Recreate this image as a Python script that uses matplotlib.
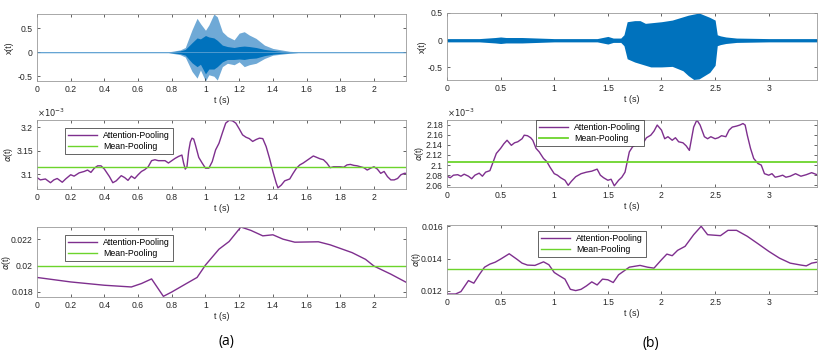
import numpy as np
import matplotlib.pyplot as plt

plt.rcParams['font.family'] = ['Liberation Sans', 'DejaVu Sans']
plt.rcParams['font.size'] = 6.2
plt.rcParams['mathtext.fontset'] = 'dejavusans'

PURPLE = '#7E2F8E'
GREEN = '#6CD42C'
BLUE = '#0072BD'
LIGHT = '#6FA9D6'

# ---- (a) waveform envelope ----
wa_t = [0, 0.78, 0.8, 0.85, 0.88, 0.92, 0.95, 0.97, 1.0, 1.02, 1.05, 1.07, 1.1, 1.13,
        1.17, 1.2, 1.23, 1.26, 1.3, 1.35, 1.4, 1.45, 1.5, 1.55, 2.19]
wa_hi = [0.01, 0.01, 0.02, 0.05, 0.1, 0.47, 0.71, 0.6, 0.46, 0.57, 0.8, 0.74, 0.43, 0.33,
         0.26, 0.4, 0.43, 0.36, 0.29, 0.15, 0.08, 0.05, 0.02, 0.01, 0.01]
wa_lo = [-0.01, -0.01, -0.02, -0.05, -0.1, -0.4, -0.54, -0.37, -0.6, -0.47, -0.5, -0.58, -0.3, -0.23,
         -0.26, -0.2, -0.3, -0.26, -0.23, -0.13, -0.06, -0.04, -0.02, -0.01, -0.01]
wa_core_hi = [0.005, 0.005, 0.01, 0.03, 0.06, 0.2, 0.3, 0.28, 0.35, 0.32, 0.3, 0.25, 0.15, 0.12,
              0.1, 0.12, 0.13, 0.12, 0.1, 0.06, 0.04, 0.02, 0.01, 0.005, 0.005]
wa_core_lo = [-0.005, -0.005, -0.01, -0.03, -0.06, -0.22, -0.3, -0.25, -0.45, -0.35, -0.35, -0.3, -0.2, -0.15,
              -0.15, -0.14, -0.15, -0.13, -0.12, -0.07, -0.04, -0.02, -0.01, -0.005, -0.005]

# ---- (b) waveform envelope ----
wb_t = [0, 0.3, 0.45, 0.5, 0.55, 0.7, 1.0, 1.4, 1.5, 1.55, 1.62, 1.65, 1.68, 1.75, 1.8, 1.85,
        1.9, 2.0, 2.1, 2.2, 2.25, 2.3, 2.35, 2.4, 2.45, 2.5, 2.52, 2.55, 2.6, 2.7, 3.0, 3.45]
wb_hi = [0.03, 0.03, 0.05, 0.06, 0.05, 0.05, 0.03, 0.03, 0.07, 0.04, 0.04, 0.1, 0.34, 0.36, 0.36, 0.31,
         0.32, 0.34, 0.37, 0.43, 0.46, 0.48, 0.5, 0.46, 0.42, 0.37, 0.1, 0.08, 0.06, 0.04, 0.03, 0.03]
wb_lo = [-0.03, -0.03, -0.05, -0.06, -0.05, -0.05, -0.03, -0.03, -0.07, -0.04, -0.04, -0.1, -0.34, -0.4, -0.43, -0.46,
         -0.49, -0.49, -0.48, -0.56, -0.65, -0.72, -0.71, -0.65, -0.59, -0.46, -0.1, -0.08, -0.06, -0.04, -0.03, -0.03]

# ---- (a) attention weights, frame level (x1e-3) ----
ma_t = [0, 0.02, 0.05, 0.08, 0.1, 0.12, 0.15, 0.17, 0.2, 0.22, 0.25, 0.28, 0.3, 0.32, 0.34, 0.36,
        0.38, 0.4, 0.43, 0.45, 0.47, 0.5, 0.52, 0.54, 0.56, 0.58, 0.6, 0.62, 0.64, 0.66, 0.68, 0.7,
        0.72, 0.74, 0.76, 0.78, 0.8, 0.82, 0.84, 0.86, 0.87, 0.88, 0.89, 0.9, 0.91, 0.92, 0.93, 0.94,
        0.96, 0.98, 1.0, 1.02, 1.04, 1.06, 1.08, 1.1, 1.12, 1.14, 1.16, 1.18, 1.2, 1.22, 1.24, 1.26,
        1.28, 1.3, 1.32, 1.34, 1.36, 1.38, 1.4, 1.42, 1.43, 1.45, 1.47, 1.5, 1.52, 1.54, 1.56, 1.58,
        1.6, 1.62, 1.64, 1.66, 1.68, 1.7, 1.72, 1.74, 1.76, 1.8, 1.82, 1.84, 1.86, 1.88, 1.9, 1.92,
        1.94, 1.96, 1.98, 2.0, 2.02, 2.04, 2.06, 2.08, 2.1, 2.12, 2.14, 2.16, 2.18, 2.19]
ma_att = [3.093, 3.088, 3.090, 3.082, 3.088, 3.091, 3.083, 3.090, 3.099, 3.096, 3.103, 3.106, 3.109, 3.104, 3.113, 3.118,
          3.118, 3.111, 3.095, 3.082, 3.086, 3.097, 3.093, 3.087, 3.096, 3.091, 3.099, 3.106, 3.110, 3.116, 3.129, 3.131,
          3.129, 3.129, 3.129, 3.124, 3.129, 3.134, 3.138, 3.141, 3.124, 3.111, 3.116, 3.149, 3.169, 3.177, 3.175, 3.163,
          3.136, 3.124, 3.113, 3.113, 3.127, 3.152, 3.166, 3.188, 3.209, 3.215, 3.214, 3.209, 3.197, 3.184, 3.179, 3.176,
          3.170, 3.174, 3.177, 3.176, 3.159, 3.134, 3.106, 3.081, 3.071, 3.077, 3.086, 3.090, 3.102, 3.113, 3.120, 3.124,
          3.129, 3.134, 3.139, 3.136, 3.133, 3.131, 3.124, 3.114, 3.116, 3.116, 3.115, 3.120, 3.121, 3.119, 3.118, 3.116,
          3.114, 3.109, 3.113, 3.116, 3.111, 3.102, 3.106, 3.095, 3.088, 3.088, 3.091, 3.099, 3.102, 3.102]
ma_mean = 3.115

# ---- (b) attention weights, frame level (x1e-3) ----
mb_t = [0, 0.03, 0.06, 0.1, 0.13, 0.16, 0.2, 0.23, 0.26, 0.3, 0.33, 0.36, 0.4, 0.43, 0.46, 0.5,
        0.53, 0.56, 0.6, 0.63, 0.66, 0.7, 0.72, 0.75, 0.78, 0.8, 0.83, 0.86, 0.9, 0.93, 0.96, 1.0,
        1.03, 1.06, 1.1, 1.13, 1.16, 1.2, 1.25, 1.3, 1.35, 1.4, 1.43, 1.46, 1.5, 1.53, 1.56, 1.6,
        1.63, 1.66, 1.68, 1.7, 1.73, 1.76, 1.8, 1.83, 1.86, 1.9, 1.93, 1.96, 2.0, 2.03, 2.06, 2.1,
        2.13, 2.16, 2.2, 2.23, 2.26, 2.28, 2.3, 2.33, 2.36, 2.4, 2.43, 2.46, 2.5, 2.53, 2.56, 2.6,
        2.63, 2.66, 2.7, 2.73, 2.76, 2.78, 2.8, 2.83, 2.86, 2.9, 2.93, 2.96, 3.0, 3.03, 3.06, 3.1,
        3.13, 3.16, 3.2, 3.25, 3.3, 3.35, 3.4, 3.45]
mb_att = [2.078, 2.075, 2.080, 2.081, 2.078, 2.082, 2.078, 2.073, 2.080, 2.084, 2.078, 2.086, 2.089, 2.106, 2.123, 2.133,
          2.142, 2.149, 2.139, 2.144, 2.146, 2.152, 2.159, 2.158, 2.154, 2.149, 2.133, 2.126, 2.113, 2.107, 2.096, 2.083,
          2.080, 2.075, 2.070, 2.060, 2.068, 2.077, 2.083, 2.086, 2.088, 2.092, 2.080, 2.075, 2.070, 2.072, 2.059, 2.070,
          2.076, 2.086, 2.106, 2.126, 2.136, 2.140, 2.146, 2.144, 2.154, 2.159, 2.167, 2.179, 2.169, 2.152, 2.156, 2.149,
          2.154, 2.146, 2.144, 2.138, 2.129, 2.152, 2.175, 2.189, 2.179, 2.156, 2.152, 2.156, 2.152, 2.154, 2.158, 2.156,
          2.169, 2.175, 2.177, 2.179, 2.182, 2.179, 2.159, 2.133, 2.113, 2.103, 2.100, 2.083, 2.080, 2.083, 2.076, 2.078,
          2.080, 2.076, 2.078, 2.083, 2.078, 2.081, 2.085, 2.081]
mb_mean = 2.106

# ---- (a) attention weights, segment level ----
ba_t = [0, 0.2, 0.4, 0.56, 0.62, 0.68, 0.75, 0.8, 0.88, 0.95, 1.0, 1.08, 1.14, 1.21, 1.27, 1.34,
        1.4, 1.46, 1.53, 1.67, 1.74, 1.87, 1.95, 2.0, 2.1, 2.19]
ba_att = [0.01910, 0.01876, 0.01851, 0.01838, 0.01864, 0.01899, 0.01767, 0.01800, 0.01859, 0.01910,
          0.02004, 0.02124, 0.02182, 0.02292, 0.02266, 0.02225, 0.02233, 0.02200, 0.02177, 0.02180,
          0.02157, 0.02098, 0.02047, 0.01996, 0.01935, 0.01874]
ba_mean = 0.0200

# ---- (b) attention weights, segment level ----
bb_t = [0, 0.08, 0.13, 0.2, 0.25, 0.3, 0.35, 0.4, 0.45, 0.5, 0.58, 0.65, 0.7, 0.75, 0.82, 0.9,
        0.95, 1.0, 1.05, 1.1, 1.15, 1.2, 1.25, 1.3, 1.35, 1.4, 1.45, 1.5, 1.55, 1.6, 1.7, 1.8,
        1.87, 1.93, 2.0, 2.05, 2.1, 2.15, 2.22, 2.3, 2.37, 2.43, 2.55, 2.62, 2.7, 2.8, 2.9, 3.0,
        3.1, 3.2, 3.3, 3.35, 3.4, 3.45]
bb_att = [0.01181, 0.01181, 0.01196, 0.01264, 0.01248, 0.01300, 0.01347, 0.01366, 0.01378, 0.01397,
          0.01430, 0.01397, 0.01372, 0.01360, 0.01358, 0.01380, 0.01362, 0.01314, 0.01293, 0.01273,
          0.01210, 0.01202, 0.01210, 0.01231, 0.01256, 0.01237, 0.01273, 0.01269, 0.01252, 0.01300,
          0.01347, 0.01358, 0.01347, 0.01341, 0.01393, 0.01428, 0.01418, 0.01451, 0.01476, 0.01548,
          0.01600, 0.01548, 0.01542, 0.01575, 0.01575, 0.01538, 0.01492, 0.01445, 0.01403, 0.01372,
          0.01360, 0.01355, 0.01372, 0.01378]
bb_mean = 0.01335

fig = plt.figure(figsize=(8.3, 3.62), dpi=100)


def add_ax(px_l, px_t, px_r, px_b):
    ax = fig.add_axes([px_l / 830, 1 - px_b / 362, (px_r - px_l) / 830, (px_b - px_t) / 362])
    ax.tick_params(direction='in', top=True, right=True, length=2.5, width=0.5,
                   colors='#262626', labelsize=6.2, pad=3)
    for s in ax.spines.values():
        s.set_linewidth(0.6)
        s.set_color('#9a9a9a')
    ax._px = (px_l, px_r)
    return ax


def set_ylab(ax, text, px_right):
    # px_right: right edge of the rotated label, in figure pixels
    ax.set_ylabel(text, fontsize=6.2, color='#262626')
    l, r = ax._px
    ax.yaxis.set_label_coords((px_right - l) / (r - l), 0.5)


def style_x(ax, xmax, ticks, labels):
    ax.set_xlim(0, xmax)
    ax.set_xticks(ticks)
    ax.set_xticklabels(labels)
    ax.set_xlabel('t (s)', fontsize=6.5, labelpad=1, color='#262626')


xa_ticks = [0, 0.2, 0.4, 0.6, 0.8, 1, 1.2, 1.4, 1.6, 1.8, 2]
xa_labels = ['0', '0.2', '0.4', '0.6', '0.8', '1', '1.2', '1.4', '1.6', '1.8', '2']
xb_ticks = [0, 0.5, 1, 1.5, 2, 2.5, 3]
xb_labels = ['0', '0.5', '1', '1.5', '2', '2.5', '3']


def add_legend(ax, x, y):
    leg = ax.legend(loc='upper left', bbox_to_anchor=(x / 830, 1 - y / 362), bbox_transform=fig.transFigure,
                    borderaxespad=0, fancybox=False, framealpha=1, edgecolor='#262626', fontsize=6.3,
                    handlelength=3.3, labelspacing=0.25, borderpad=0.35, handletextpad=0.7)
    leg.get_frame().set_linewidth(0.5)


# top-left waveform
ax = add_ax(37, 14, 406, 81)
ax.fill_between(wa_t, wa_lo, wa_hi, color=LIGHT, lw=0)
ax.fill_between(wa_t, wa_core_lo, wa_core_hi, color=BLUE, lw=0)
ax.plot([0, 2.19], [0, 0], color=LIGHT, lw=0.5)
ax.set_ylim(-0.6, 0.8)
ax.set_yticks([-0.5, 0, 0.5])
ax.set_yticklabels(['-0.5', '0', '0.5'])
set_ylab(ax, 'x(t)', 14)
style_x(ax, 2.19, xa_ticks, xa_labels)

# top-right waveform
ax = add_ax(447, 13, 817, 80)
ax.fill_between(wb_t, wb_lo, wb_hi, color=BLUE, lw=0)
ax.plot([0, 3.45], [0, 0], color=BLUE, lw=0.6)
ax.set_ylim(-0.73, 0.5)
ax.set_yticks([-0.5, 0, 0.5])
ax.set_yticklabels(['-0.5', '0', '0.5'])
set_ylab(ax, 'x(t)', 427)
style_x(ax, 3.45, xb_ticks, xb_labels)

# middle-left
ax = add_ax(37, 120, 406, 189)
ax.plot(ma_t, ma_att, color=PURPLE, lw=1.0, label='Attention-Pooling')
ax.axhline(ma_mean, color=GREEN, lw=1.0, label='Mean-Pooling')
ax.set_ylim(3.0686, 3.2157)
ax.set_yticks([3.1, 3.15, 3.2])
ax.set_yticklabels(['3.1', '3.15', '3.2'])
set_ylab(ax, r'$\alpha$(t)', 15)
ax.text(0, 1.01, r'$\times10^{-3}$', transform=ax.transAxes, fontsize=6, color='#262626', va='bottom')
style_x(ax, 2.19, xa_ticks, xa_labels)
add_legend(ax, 65, 128)

# middle-right
ax = add_ax(447, 120, 817, 187)
ax.plot(mb_t, mb_att, color=PURPLE, lw=1.0, label='Attention-Pooling')
ax.axhline(mb_mean, color=GREEN, lw=1.3, label='Mean-Pooling')
ax.set_ylim(2.0567, 2.189)
ax.set_yticks([2.06, 2.08, 2.1, 2.12, 2.14, 2.16, 2.18])
ax.set_yticklabels(['2.06', '2.08', '2.1', '2.12', '2.14', '2.16', '2.18'])
set_ylab(ax, r'$\alpha$(t)', 426)
ax.text(0, 1.01, r'$\times10^{-3}$', transform=ax.transAxes, fontsize=6, color='#262626', va='bottom')
style_x(ax, 3.45, xb_ticks, xb_labels)
add_legend(ax, 536, 120)

# bottom-left
ax = add_ax(37, 227, 406, 297)
ax.plot(ba_t, ba_att, color=PURPLE, lw=1.0, label='Attention-Pooling')
ax.axhline(ba_mean, color=GREEN, lw=1.0, label='Mean-Pooling')
ax.set_ylim(0.01762, 0.02292)
ax.set_yticks([0.018, 0.02, 0.022])
ax.set_yticklabels(['0.018', '0.02', '0.022'])
set_ylab(ax, r'$\alpha$(t)', 13)
style_x(ax, 2.19, xa_ticks, xa_labels)
add_legend(ax, 65, 235)

# bottom-right
ax = add_ax(447, 225, 817, 294)
ax.plot(bb_t, bb_att, color=PURPLE, lw=1.0, label='Attention-Pooling')
ax.axhline(bb_mean, color=GREEN, lw=1.0, label='Mean-Pooling')
ax.set_ylim(0.01181, 0.01608)
ax.set_yticks([0.012, 0.014, 0.016])
ax.set_yticklabels(['0.012', '0.014', '0.016'])
set_ylab(ax, r'$\alpha$(t)', 423)
style_x(ax, 3.45, xb_ticks, xb_labels)
add_legend(ax, 538, 231)

fig.text(226 / 830, 1 - 342 / 362, '(a)', fontsize=10, ha='center', va='center', family=['Open Sans'])
fig.text(651 / 830, 1 - 343 / 362, '(b)', fontsize=10, ha='center', va='center', family=['Open Sans'])

fig.savefig('out.png', dpi=100)
